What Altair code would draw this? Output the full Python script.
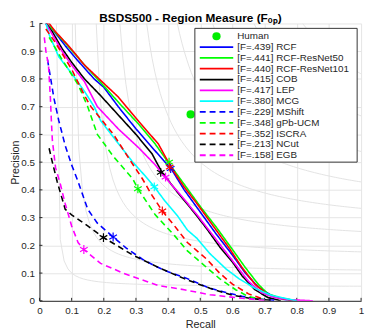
import altair as alt
import pandas as pd
import numpy as np

# ---------------- data ----------------
names = ["RCF", "RCF-ResNet50", "RCF-ResNet101", "COB", "LEP", "MCG",
         "MShift", "gPb-UCM", "ISCRA", "NCut", "EGB"]
fscores = [".439", ".441", ".440", ".415", ".417", ".380",
           ".229", ".348", ".352", ".213", ".158"]
colors = ["#0000ff", "#00ff00", "#ff0000", "#000000", "#ff00ff", "#00ffff",
          "#0000ff", "#00ff00", "#ff0000", "#000000", "#ff00ff"]
dashed = [False, False, False, False, False, False, True, True, True, True, True]

rcf_r = [0.02, 0.04, 0.08, 0.12, 0.17, 0.20, 0.245, 0.30, 0.36, 0.41, 0.45, 0.50, 0.55, 0.60, 0.64, 0.68, 0.72, 0.76, 0.80]
rcf_p = [1.00, 0.98, 0.92, 0.865, 0.80, 0.77, 0.70, 0.62, 0.54, 0.475, 0.40, 0.32, 0.24, 0.165, 0.10, 0.05, 0.02, 0.005, 0.0]

r50_r = [0.02, 0.04, 0.08, 0.14, 0.20, 0.25, 0.31, 0.36, 0.40, 0.45, 0.50, 0.55, 0.60, 0.64, 0.68, 0.71, 0.75, 0.80]
r50_p = [1.00, 0.98, 0.93, 0.85, 0.775, 0.71, 0.635, 0.565, 0.50, 0.42, 0.34, 0.265, 0.185, 0.12, 0.06, 0.025, 0.01, 0.0]

r101_r = [0.02, 0.03, 0.05, 0.09, 0.14, 0.19, 0.245, 0.27, 0.31, 0.37, 0.41, 0.45, 0.49, 0.54, 0.59, 0.63, 0.67, 0.71, 0.75, 0.80]
r101_p = [1.00, 1.00, 0.97, 0.92, 0.85, 0.795, 0.735, 0.70, 0.645, 0.565, 0.48, 0.41, 0.35, 0.27, 0.19, 0.12, 0.06, 0.022, 0.008, 0.0]

cob_r = [0.02, 0.04, 0.07, 0.10, 0.14, 0.19, 0.245, 0.30, 0.35, 0.38, 0.43, 0.48, 0.52, 0.56, 0.60, 0.63, 0.67, 0.71, 0.75]
cob_p = [1.00, 0.97, 0.91, 0.86, 0.80, 0.74, 0.67, 0.60, 0.53, 0.465, 0.39, 0.32, 0.26, 0.195, 0.14, 0.09, 0.04, 0.012, 0.0]

lep_r = [0.02, 0.04, 0.07, 0.10, 0.14, 0.18, 0.245, 0.31, 0.36, 0.39, 0.44, 0.49, 0.53, 0.57, 0.61, 0.65, 0.69, 0.73, 0.78, 0.85]
lep_p = [1.00, 0.96, 0.90, 0.85, 0.79, 0.70, 0.62, 0.55, 0.49, 0.446, 0.38, 0.31, 0.25, 0.19, 0.13, 0.07, 0.03, 0.012, 0.004, 0.0]

mcg_r = [0.02, 0.03, 0.06, 0.10, 0.14, 0.17, 0.19, 0.23, 0.29, 0.325, 0.357, 0.39, 0.43, 0.46, 0.49, 0.53, 0.58, 0.62, 0.67, 0.72, 0.80]
mcg_p = [1.00, 0.96, 0.88, 0.82, 0.755, 0.70, 0.65, 0.59, 0.50, 0.455, 0.411, 0.36, 0.305, 0.255, 0.225, 0.17, 0.115, 0.08, 0.045, 0.02, 0.0]

msh_r = [0.025, 0.035, 0.045, 0.06, 0.08, 0.10, 0.12, 0.15, 0.18, 0.229, 0.27, 0.32, 0.36, 0.40, 0.46, 0.53, 0.58, 0.63, 0.68, 0.73]
msh_p = [0.87, 0.80, 0.73, 0.65, 0.56, 0.49, 0.43, 0.33, 0.28, 0.23, 0.19, 0.15, 0.125, 0.105, 0.08, 0.045, 0.03, 0.016, 0.007, 0.002]

ucm_r = [0.03, 0.07, 0.12, 0.15, 0.18, 0.23, 0.29, 0.306, 0.36, 0.42, 0.46, 0.49, 0.52, 0.56, 0.61, 0.65, 0.70]
ucm_p = [0.95, 0.87, 0.78, 0.70, 0.60, 0.52, 0.44, 0.404, 0.31, 0.235, 0.18, 0.15, 0.12, 0.08, 0.04, 0.015, 0.003]

isc_r = [0.02, 0.05, 0.10, 0.14, 0.16, 0.23, 0.28, 0.32, 0.35, 0.382, 0.42, 0.46, 0.49, 0.52, 0.56, 0.60, 0.65, 0.70]
isc_p = [0.98, 0.93, 0.835, 0.74, 0.70, 0.60, 0.51, 0.44, 0.38, 0.324, 0.27, 0.21, 0.18, 0.15, 0.10, 0.06, 0.025, 0.005]

ncut_r = [0.03, 0.04, 0.055, 0.065, 0.08, 0.10, 0.15, 0.199, 0.24, 0.29, 0.37, 0.45, 0.53, 0.60, 0.66, 0.72]
ncut_p = [0.55, 0.50, 0.43, 0.39, 0.33, 0.31, 0.27, 0.228, 0.20, 0.165, 0.12, 0.08, 0.045, 0.02, 0.008, 0.002]

egb_r = [0.015, 0.02, 0.028, 0.034, 0.037, 0.04, 0.05, 0.065, 0.08, 0.10, 0.12, 0.138, 0.19, 0.26, 0.32, 0.37, 0.45, 0.53, 0.63, 0.70]
egb_p = [0.95, 0.90, 0.85, 0.73, 0.65, 0.58, 0.48, 0.42, 0.35, 0.27, 0.21, 0.185, 0.135, 0.10, 0.075, 0.055, 0.04, 0.022, 0.009, 0.002]

curves_r = [rcf_r, r50_r, r101_r, cob_r, lep_r, mcg_r, msh_r, ucm_r, isc_r, ncut_r, egb_r]
curves_p = [rcf_p, r50_p, r101_p, cob_p, lep_p, mcg_p, msh_p, ucm_p, isc_p, ncut_p, egb_p]

# ODS points (asterisks)
star_r = [0.408, 0.403, 0.405, 0.377, 0.392, 0.357, 0.229, 0.306, 0.382, 0.199, 0.138]
star_p = [0.477, 0.500, 0.482, 0.463, 0.446, 0.411, 0.230, 0.404, 0.324, 0.228, 0.185]

human_r = [0.47]
human_p = [0.672]

iso_levels = [0.1, 0.2, 0.3, 0.4, 0.5, 0.6, 0.7, 0.8, 0.9]
tick_vals = [0, 0.1, 0.2, 0.3, 0.4, 0.5, 0.6, 0.7, 0.8, 0.9, 1]

# ---------------- tables ----------------
rows = []
for i, n in enumerate(names):
    for j, (r, p) in enumerate(zip(curves_r[i], curves_p[i])):
        rows.append({"name": n, "recall": r, "precision": p, "k": j})
curves_df = pd.DataFrame(rows)

stars_df = pd.DataFrame({"name": names, "recall": star_r, "precision": star_p})
human_df = pd.DataFrame({"name": ["Human"], "recall": human_r, "precision": human_p})

# iso-F reference contours (background guides)
iso_rows = []
for f in iso_levels:
    r0 = f / (2 - f)
    for j, r in enumerate(np.linspace(r0, 1.0, 80)):
        iso_rows.append({"f": f, "recall": r, "precision": f * r / (2 * r - f), "k": j})
iso_df = pd.DataFrame(iso_rows)
xticks_df = pd.DataFrame({"recall": tick_vals})
yticks_df = pd.DataFrame({"precision": tick_vals})

labels = ["[F=%s] %s" % (f, n) for f, n in zip(fscores, names)]
legend_df = pd.DataFrame({"name": names, "label": labels,
                          "row": list(range(1, len(names) + 1))})

FONT = "Liberation Sans"
TXT = "#262626"
PH = 282
dash_range = [[6, 4] if d else [1, 0] for d in dashed]

xs = alt.Scale(domain=[0, 1], nice=False, zero=False)
ys = alt.Scale(domain=[0, 1], nice=False, zero=False)
lbl = "datum.value == 0 ? '0' : datum.value == 1 ? '1' : format(datum.value, '.1f')"
xaxis = alt.Axis(values=tick_vals, labelExpr=lbl, title="Recall", ticks=False,
                 grid=True, gridColor="#e4e4e4", domainColor=TXT, labelColor=TXT,
                 titleColor=TXT, labelFont=FONT, titleFont=FONT, labelFontSize=10,
                 titleFontSize=11, titleFontWeight="normal", labelPadding=5, titlePadding=3,
                 labelFlush=False)
yaxis = alt.Axis(values=tick_vals, labelExpr=lbl, title="Precision", ticks=False,
                 grid=True, gridColor="#e4e4e4", domainColor=TXT, labelColor=TXT,
                 titleColor=TXT, labelFont=FONT, titleFont=FONT, labelFontSize=10,
                 titleFontSize=11, titleFontWeight="normal", labelPadding=5, titlePadding=0,
                 labelFlush=False)

X = alt.X("recall:Q", scale=xs, axis=xaxis)
Y = alt.Y("precision:Q", scale=ys, axis=yaxis)

color_scale = alt.Scale(domain=names, range=colors)
dash_scale = alt.Scale(domain=names, range=dash_range)

iso = alt.Chart(iso_df).mark_line(color="#e2e2e2", strokeWidth=1, clip=True).encode(
    x=X, y=Y, detail="f:N", order="k:Q")

ytick = alt.Chart(yticks_df).mark_rule(color=TXT, strokeWidth=1).encode(
    y=Y, x=alt.value(0), x2=alt.value(3))
xtick = alt.Chart(xticks_df).mark_rule(color=TXT, strokeWidth=1).encode(
    x=X, y=alt.value(PH), y2=alt.value(PH - 3))

lines = alt.Chart(curves_df).mark_line(strokeWidth=1.6, clip=True).encode(
    x=X, y=Y,
    color=alt.Color("name:N", scale=color_scale, legend=None),
    strokeDash=alt.StrokeDash("name:N", scale=dash_scale, legend=None),
    order="k:Q")

ASTER = "M0,-1L0,1M-0.87,-0.5L0.87,0.5M-0.87,0.5L0.87,-0.5"
stars = alt.Chart(stars_df).mark_point(shape=ASTER, filled=False, size=80,
                                       strokeWidth=1.2, opacity=1).encode(
    x=X, y=Y, color=alt.Color("name:N", scale=color_scale, legend=None))

human = alt.Chart(human_df).mark_circle(color="#00ee00", size=70, opacity=1).encode(x=X, y=Y)

# ---------------- legend (drawn inside plot) ----------------
ROW0, ROWH = 13, 11
box = alt.Chart(pd.DataFrame({"a": [0]})).mark_rect(
    fill="white", stroke="#333333", strokeWidth=1).encode(
    x=alt.value(158), x2=alt.value(323), y=alt.value(5), y2=alt.value(141))

leg_lines = alt.Chart(legend_df).transform_calculate(
    py="%d + %d * datum.row" % (ROW0, ROWH)).mark_rule(strokeWidth=1.8).encode(
    x=alt.value(163), x2=alt.value(197),
    y=alt.Y("py:Q", scale=None, axis=None),
    color=alt.Color("name:N", scale=color_scale, legend=None),
    strokeDash=alt.StrokeDash("name:N", scale=dash_scale, legend=None))

leg_text = alt.Chart(legend_df).transform_calculate(
    py="%d + %d * datum.row" % (ROW0, ROWH)).mark_text(
    align="left", baseline="middle", font=FONT, fontSize=10, color=TXT).encode(
    x=alt.value(201), y=alt.Y("py:Q", scale=None, axis=None), text="label:N")

hum_leg = pd.DataFrame({"label": ["Human"], "row": [0]})
leg_hdot = alt.Chart(hum_leg).transform_calculate(
    py="%d + %d * datum.row" % (ROW0, ROWH)).mark_circle(
    color="#00ee00", size=70, opacity=1).encode(
    x=alt.value(180), y=alt.Y("py:Q", scale=None, axis=None))
leg_htext = alt.Chart(hum_leg).transform_calculate(
    py="%d + %d * datum.row" % (ROW0, ROWH)).mark_text(
    align="left", baseline="middle", font=FONT, fontSize=10, color=TXT).encode(
    x=alt.value(201), y=alt.Y("py:Q", scale=None, axis=None), text="label:N")

chart = alt.layer(
    iso, ytick, xtick, lines, stars, human, box, leg_lines, leg_text, leg_hdot, leg_htext
).properties(
    width=327, height=PH,
    title=alt.TitleParams("BSDS500 - Region Measure (Fₒₚ)", font=FONT, fontSize=12,
                          fontWeight="bold", color="#000000", offset=-7, dx=-10),
    autosize=alt.AutoSizeParams(type="none"),
    padding={"left": 32, "top": 13, "right": 5, "bottom": 29},
).configure_view(stroke=None)

chart.save("out.html", embed_options={"renderer": "svg", "actions": False})
